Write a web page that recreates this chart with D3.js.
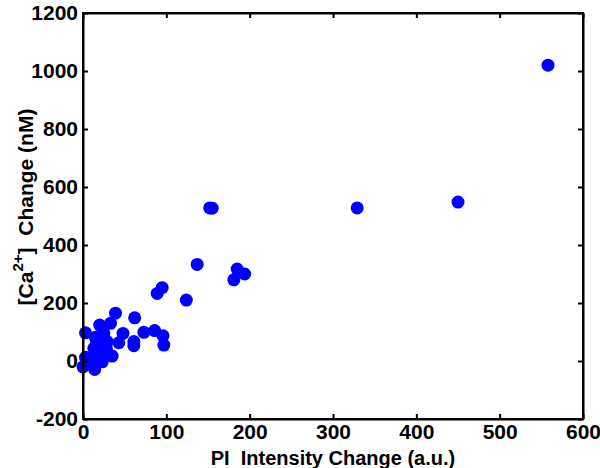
<!DOCTYPE html>
<html>
<head>
<meta charset="utf-8">
<script src="https://cdn.jsdelivr.net/npm/d3@7"></script>
<style>
body { margin: 0; background: #fff; }
svg text { font-family: "Liberation Sans", Arial, sans-serif; font-weight: bold; white-space: pre; }
</style>
</head>
<body>
<svg width="600" height="468"></svg>
<script>
// PI intensity change (a.u.) vs [Ca2+] change (nM)
var piChange = [558, 450, 329, 152, 155, 137, 185, 194, 181, 95, 89, 124, 86, 96, 97,
  39, 62, 33, 20, 3, 25, 48, 73, 15, 29, 43, 61, 61, 13, 23, 35, 21, 3, 11, 23, 0, 14, 16, 28];
var caChange = [1020, 548, 528, 528, 527, 333, 317, 300, 280, 253, 233, 210, 105, 87, 55,
  165, 149, 130, 124, 97, 95, 95, 99, 82, 67, 63, 67, 53, 44, 44, 17, 21, 13, 4, -3, -20, -29, 61, 44];
var xTicks = [0, 100, 200, 300, 400, 500, 600];
var yTicks = [-200, 0, 200, 400, 600, 800, 1000, 1200];

var svg = d3.select("svg");
var plotL = 83, plotR = 583, plotT = 13, plotB = 419;

var x = d3.scaleLinear().domain([0, 600]).range([plotL, plotR]);
var y = d3.scaleLinear().domain([-200, 1200]).range([plotB, plotT]);

var data = piChange.map(function(d, i) { return {x: d, y: caChange[i]}; });

// points
svg.append("g")
  .selectAll("circle")
  .data(data)
  .enter().append("circle")
  .attr("cx", function(d) { return x(d.x); })
  .attr("cy", function(d) { return y(d.y); })
  .attr("r", 6.5)
  .attr("fill", "#0000ff");

// axes, ticks pointing in
function styleAxis(g) {
  g.selectAll("path").attr("stroke", "#000").attr("stroke-width", 2);
  g.selectAll("line").attr("stroke", "#000").attr("stroke-width", 2);
  g.selectAll("text").attr("fill", "#000").style("font-size", "21px");
}
var plain = function(d) { return String(d); };

svg.append("g")
  .attr("transform", "translate(0," + plotB + ")")
  .call(d3.axisBottom(x).tickValues(xTicks).tickSize(-5).tickSizeOuter(0).tickPadding(5).tickFormat(plain))
  .call(styleAxis);
svg.append("g")
  .attr("transform", "translate(0," + plotT + ")")
  .call(d3.axisTop(x).tickValues(xTicks).tickSize(-5).tickSizeOuter(0).tickFormat(""))
  .call(styleAxis);
svg.append("g")
  .attr("transform", "translate(" + plotL + ",0)")
  .call(d3.axisLeft(y).tickValues(yTicks).tickSize(-5).tickSizeOuter(0).tickPadding(5).tickFormat(plain))
  .call(styleAxis);
svg.append("g")
  .attr("transform", "translate(" + plotR + ",0)")
  .call(d3.axisRight(y).tickValues(yTicks).tickSize(-5).tickSizeOuter(0).tickFormat(""))
  .call(styleAxis);

svg.append("rect")
  .attr("x", plotL).attr("y", plotT)
  .attr("width", plotR - plotL).attr("height", plotB - plotT)
  .attr("fill", "none").attr("stroke", "#000").attr("stroke-width", 2);

// x title
svg.append("text")
  .attr("x", (plotL + plotR) / 2)
  .attr("y", 465)
  .attr("text-anchor", "middle")
  .style("font-size", "20px")
  .text("PI  Intensity Change (a.u.)");

// y title with superscript
var yt = svg.append("text")
  .attr("transform", "translate(33,207) rotate(-90)")
  .attr("text-anchor", "middle")
  .style("font-size", "21px");
yt.append("tspan").text("[Ca");
yt.append("tspan").attr("dy", -10).style("font-size", "15px").text("2+");
yt.append("tspan").attr("dy", 10).text("]  Change (nM)");
</script>
</body>
</html>
